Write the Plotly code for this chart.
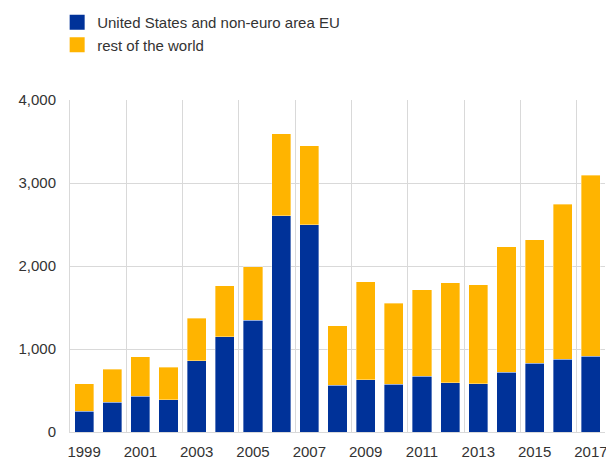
import plotly.graph_objects as go

years = list(range(1999, 2018))
us_non_euro_eu = [249, 357, 429, 389, 859, 1147, 1344, 2604, 2495, 562,
                  630, 574, 670, 594, 582, 718, 826, 875, 911]
total = [582, 758, 907, 782, 1372, 1761, 1990, 3595, 3446, 1280,
         1813, 1553, 1713, 1797, 1773, 2231, 2319, 2744, 3093]
rest_of_world = [t - u for t, u in zip(total, us_non_euro_eu)]
series_names = ["United States and non-euro area EU", "rest of the world"]

tick_years = years[::2]
grid_positions = [y + 0.5 for y in years[1::2]]

BLUE = "#003299"
YELLOW = "#FFB400"
GRID = "#d9d9d9"
FONT = "Liberation Sans, Arial, sans-serif"

fig = go.Figure()
for vals, name, col in [(us_non_euro_eu, series_names[0], BLUE),
                        (rest_of_world, series_names[1], YELLOW)]:
    fig.add_trace(go.Bar(x=years, y=vals, name=name, showlegend=False,
                         marker=dict(color=col, line=dict(color="rgba(255,255,255,0.6)", width=0.6))))
# legend entries with larger square swatches
for name, col in [(series_names[0], BLUE), (series_names[1], YELLOW)]:
    fig.add_trace(go.Scatter(x=[None], y=[None], mode="markers", name=name,
                             marker=dict(symbol="square", size=15, color=col, line=dict(width=0))))

fig.update_layout(
    barmode="stack",
    bargap=0.32,
    width=606, height=459,
    margin=dict(l=70, r=1, t=100, b=27, autoexpand=False),
    paper_bgcolor="white", plot_bgcolor="white",
    font=dict(family=FONT, size=15, color="#333333"),
    legend=dict(x=-0.024, y=1.283, xanchor="left", yanchor="top",
                traceorder="normal", font=dict(size=15, color="#333333"),
                bgcolor="rgba(0,0,0,0)", itemclick=False, tracegroupgap=0),
    showlegend=True,
)
fig.update_xaxes(
    range=[1998.5, 2017.5],
    tickmode="array", tickvals=tick_years, ticktext=[str(y) for y in tick_years],
    showgrid=False, showline=True, linecolor=GRID, linewidth=1,
    ticks="", ticklabelstandoff=6, ticklabeloverflow="allow",
    minor=dict(tickmode="array", tickvals=grid_positions, showgrid=True,
               gridcolor=GRID, gridwidth=1, ticks=""),
    fixedrange=True,
)
fig.update_yaxes(
    range=[0, 4000], tickmode="array", tickvals=[0, 1000, 2000, 3000, 4000],
    tickformat=",", showgrid=True, gridcolor=GRID, gridwidth=1,
    showline=True, linecolor=GRID, linewidth=1, zeroline=False,
    ticks="", ticklabelstandoff=10, ticklabeloverflow="allow", fixedrange=True,
)

fig.write_html("out.html", config={"displayModeBar": False},
               post_script="document.body.style.margin='0';document.body.style.overflow='hidden';")
